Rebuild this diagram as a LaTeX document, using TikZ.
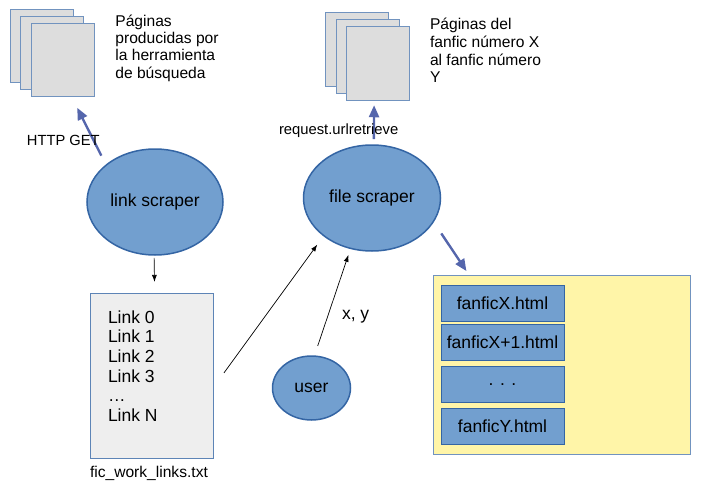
\documentclass[tikz,border=0pt]{standalone}
\usepackage{fontspec}
\setmainfont{Liberation Sans}
\usetikzlibrary{shapes, arrows.meta}
\definecolor{blobfill}{HTML}{729FCF}
\definecolor{blobline}{HTML}{3465A4}
\definecolor{flowblue}{HTML}{5566AC}
\definecolor{paper}{HTML}{DDDDDD}
\definecolor{listfill}{HTML}{EEEEEE}
\definecolor{yellowbox}{HTML}{FFF5A8}
\tikzset{
  blob/.style={ellipse, draw=blobline, line width=1.5pt, fill=blobfill, inner sep=0pt, outer sep=0pt, font=\fontsize{17.5}{20}\selectfont},
  pagebox/.style={rectangle, draw=blobline!70!white, line width=1pt, fill=paper, inner sep=0pt, outer sep=0pt, minimum width=63pt, minimum height=73.5pt},
  filebox/.style={rectangle, draw=blobline, line width=0.8pt, fill=blobfill, inner sep=0pt, outer sep=0pt, minimum width=123pt, minimum height=35.5pt, font=\fontsize{17.5}{20}\selectfont},
  txt/.style={inner sep=0pt, outer sep=0pt, anchor=west, align=left},
  flow/.style={-{Triangle[length=12pt,width=10pt]}, draw=flowblue, line width=2.4pt},
  thin arrow/.style={-{Latex[length=7pt,width=5pt]}, black, line width=0.7pt}
}
\begin{document}
\begin{tikzpicture}[x=1pt, y=-1pt]
  \useasboundingbox (0,0) rectangle (716,493);

  % Pages from the search tool
  \node[pagebox] (pageA1) at (41.5,46) {};
  \node[pagebox] (pageA2) at (52,53) {};
  \node[pagebox] (pageA3) at (62.5,60) {};
  \node[txt, font=\fontsize{15.6}{17.4}\selectfont] (textA) at (115.4,48) {Páginas\\producidas por\\la herramienta\\de búsqueda};

  % Pages of the fanfics
  \node[pagebox] (pageB1) at (357,49.5) {};
  \node[pagebox] (pageB2) at (367.5,56.7) {};
  \node[pagebox] (pageB3) at (378,63.5) {};
  \node[txt, font=\fontsize{15.6}{17.6}\selectfont] (textB) at (430,50.5) {Páginas del\\fanfic número X\\al fanfic número\\Y};

  % Scrapers and user
  \node[blob, minimum width=136pt, minimum height=106pt] (linkscraper) at (155,202) {link scraper};
  \node[blob, minimum width=137pt, minimum height=106pt] (filescraper) at (372,198) {file scraper};
  \node[blob, minimum width=78pt, minimum height=64pt] (user) at (311.5,388) {user};

  % Link list
  \node[rectangle, draw=blobline!80!white, line width=0.8pt, fill=listfill, inner sep=0pt, outer sep=0pt, minimum width=123pt, minimum height=164.7pt] (linkbox) at (151.8,375.6) {};
  \node[txt, font=\fontsize{17.5}{19.6}\selectfont] (linktext) at (108,366) {Link 0\\Link 1\\Link 2\\Link 3\\…\\Link N};
  \node[txt, font=\fontsize{15.6}{18}\selectfont] (linkname) at (90,473) {fic\_work\_links.txt};

  % Downloaded files
  \node[rectangle, draw=blobline!70!white, line width=0.8pt, fill=yellowbox, inner sep=0pt, outer sep=0pt, minimum width=256.3pt, minimum height=178.3pt] (outbox) at (561.9,364.9) {};
  \node[filebox] (fileX) at (502.5,303.5) {fanficX.html};
  \node[filebox] (fileNext) at (502.5,342.2) {fanficX+1.html};
  \node[filebox] (fileDots) at (502.5,384.2) {. . .};
  \node[filebox] (fileY) at (502.5,426.5) {fanficY.html};

  % Blue arrows
  \draw[flow, shorten <=10.6pt, shorten >=12.3pt] (linkscraper.143) -- (pageA3.-76.5);
  \draw[flow, shorten <=6pt, shorten >=5pt] (filescraper.88) -- (pageB3.-96.25);
  \draw[flow, shorten <=14.3pt, shorten >=5.6pt] (filescraper.-21.4) -- (outbox.136.5);

  % Black arrows
  \draw[thin arrow, shorten <=3pt, shorten >=11.3pt] (linkscraper.-91.5) -- (linkbox.88.8);
  \draw[thin arrow, shorten <=18.1pt, shorten >=11pt] (linkbox.-11.5) -- (filescraper.218.7);
  \draw[thin arrow, shorten <=10.7pt, shorten >=6.9pt] (user.85.4) -- (filescraper.247.6);

  % Labels on arrows
  \node[txt, font=\fontsize{14.7}{17}\selectfont] (httpget) at (27,140) {HTTP GET};
  \node[txt, font=\fontsize{14.8}{17}\selectfont] (urlget) at (279,130.5) {request.urlretrieve};
  \node[txt, font=\fontsize{17.5}{20}\selectfont] (xy) at (342,317) {x, y};
\end{tikzpicture}
\end{document}
